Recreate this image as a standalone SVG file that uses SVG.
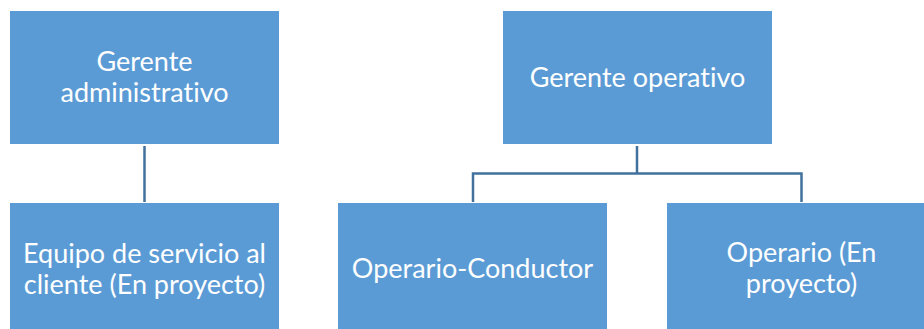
<svg xmlns="http://www.w3.org/2000/svg" width="924" height="329" viewBox="0 0 924 329">
<style>
.box{fill:#5B9BD5;}
.lbl{font-family:Lato,"Open Sans","Liberation Sans",sans-serif;font-size:27px;fill:#FFFFFF;text-anchor:middle;font-variant-ligatures:none;font-feature-settings:"liga" 0;}
.conn{fill:none;stroke:#41719C;stroke-width:2.5;}
</style>
<rect x="0" y="0" width="924" height="329" fill="#FFFFFF"/>
<g id="connectors">
<path class="conn" d="M144.5 146 V202"/>
<path class="conn" d="M637 146 V173.5 M473 202 V173.5 H801.5 V202"/>
</g>
<g id="n-gerente-admin">
<rect class="box" x="10" y="11" width="269" height="133"/>
<text class="lbl" x="144.5" y="71">Gerente</text>
<text class="lbl" x="144.5" y="102">administrativo</text>
</g>
<g id="n-gerente-oper">
<rect class="box" x="503" y="11" width="269" height="133"/>
<text class="lbl" x="637.5" y="87">Gerente operativo</text>
</g>
<g id="n-equipo">
<rect class="box" x="10" y="203" width="269" height="133"/>
<text class="lbl" x="144.5" y="263">Equipo de servicio al</text>
<text class="lbl" x="144.5" y="294">cliente (En proyecto)</text>
</g>
<g id="n-conductor">
<rect class="box" x="338" y="203" width="269" height="133"/>
<text class="lbl" x="472.5" y="278">Operario-Conductor</text>
</g>
<g id="n-operario">
<rect class="box" x="667" y="203" width="269" height="133"/>
<text class="lbl" x="801.5" y="262">Operario (En</text>
<text class="lbl" x="801.5" y="293">proyecto)</text>
</g>
</svg>
